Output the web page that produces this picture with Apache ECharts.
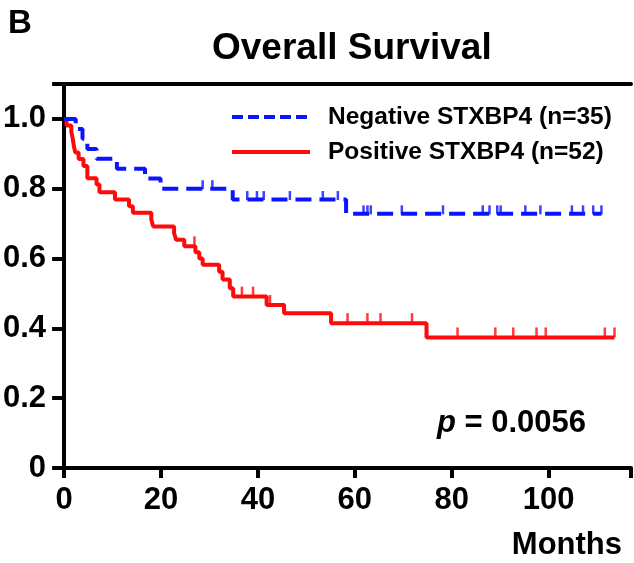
<!DOCTYPE html>
<html>
<head>
<meta charset="utf-8">
<script src="https://cdn.jsdelivr.net/npm/echarts@6/dist/echarts.min.js"></script>
<style>
  html, body { margin: 0; padding: 0; background: #fff; }
  #chart { width: 634px; height: 563px; }
</style>
</head>
<body>
<div id="chart"></div>
<script>
// Kaplan-Meier overall survival, STXBP4 negative vs positive
const negName = 'Negative STXBP4 (n=35)';
const posName = 'Positive STXBP4 (n=52)';

// event times (months) and survival after each event
const negEventTimes = [2.4, 3.8, 4.8, 6.7, 10.9, 16.7, 19.9, 34.8, 58.2];
const negSurvival   = [0.971, 0.943, 0.914, 0.886, 0.857, 0.829, 0.800, 0.769, 0.728];
const negCensored   = [28.6, 30.6, 37.8, 39.8, 41.2, 46.6, 53.4, 56.5, 61.8, 62.6, 63.3,
                       69.7, 78.2, 86.4, 87.8, 89.4, 90.1, 95.2, 98.3, 104.8, 107.1, 109.2, 110.9];
const negLastFollowUp = 110.9;

const posEventTimes = [0.5, 1.5, 1.8, 2.0, 2.3, 3.0, 4.0, 4.8, 6.7, 7.3, 10.5, 13.4, 14.2,
                       18.0, 18.4, 22.7, 23.1, 24.8, 27.1, 27.9, 28.6, 32.0, 32.7, 34.2, 34.9,
                       41.8, 45.4, 55.1, 74.8];
const posSurvival   = [0.981, 0.962, 0.942, 0.923, 0.904, 0.885, 0.865, 0.830, 0.812, 0.790, 0.769,
                       0.750, 0.731, 0.712, 0.692, 0.673, 0.654, 0.635, 0.618, 0.600, 0.582,
                       0.562, 0.540, 0.515, 0.491, 0.467, 0.443, 0.415, 0.374];
const posCensored   = [26.9, 36.7, 39.0, 42.5, 45.4, 58.5, 62.6, 65.3, 71.8, 81.2, 89.0, 92.7,
                       97.5, 99.4, 111.6, 113.6];
const posLastFollowUp = 113.6;

const xTicks = [0, 20, 40, 60, 80, 100];
const yTicks = [0, 0.2, 0.4, 0.6, 0.8, 1.0];

const BLUE = '#0a14ff';
const RED = '#ff0a0a';
const FONT = 'Liberation Sans';
const BLUE_DASH = [16, 8];

// step polyline: horizontal to each event, then vertical drop
function stepPath(times, surv, last) {
  const pts = [[0, 1]];
  let prev = 1;
  times.forEach((t, i) => {
    pts.push([t, prev]);
    pts.push([t, surv[i]]);
    prev = surv[i];
  });
  pts.push([last, prev]);
  return pts;
}
function survAt(times, surv, t) {
  let s = 1;
  times.forEach((et, i) => { if (et <= t) s = surv[i]; });
  return s;
}
function censorPoints(times, surv, cens) {
  return cens.map(t => [t, survAt(times, surv, t)]);
}

// legend drawn as a line sample followed by its label
function legendRow(y, color, dash, label) {
  return [
    { type: 'line', shape: { x1: 232, y1: y, x2: 310, y2: y },
      style: { stroke: color, lineWidth: 4, lineDash: dash } },
    { type: 'text', x: 328, y: y,
      style: { text: label, font: 'bold 24.5px "Liberation Sans"', fill: '#000',
               textVerticalAlign: 'middle', verticalAlign: 'middle' } }
  ];
}

const chart = echarts.init(document.getElementById('chart'), null, { renderer: 'canvas' });

chart.setOption({
  backgroundColor: '#ffffff',
  animation: false,
  title: [
    { text: 'B', left: 8, top: 7, padding: 0,
      textStyle: { fontFamily: FONT, fontWeight: 'bold', fontSize: 33, color: '#000' } },
    { text: 'Overall Survival', left: 212, top: 30, padding: 0,
      textStyle: { fontFamily: FONT, fontWeight: 'bold', fontSize: 37, color: '#000' } }
  ],
  grid: { left: 64, right: -5, top: 84, bottom: 95, containLabel: false },
  xAxis: [{
    type: 'value', min: 0, max: 117, interval: 20,
    splitLine: { show: false },
    axisLine: { lineStyle: { color: '#000', width: 4 } },
    axisTick: { length: 10, lineStyle: { color: '#000', width: 4 } },
    axisLabel: {
      margin: 17, fontFamily: FONT, fontWeight: 'bold', fontSize: 31, color: '#000',
      formatter: v => xTicks.indexOf(v) >= 0 ? String(v) : ''
    }
  }, {
    type: 'value', position: 'top', min: 0, max: 117,
    splitLine: { show: false },
    axisLine: { onZero: false, lineStyle: { color: '#000', width: 4 } },
    axisTick: { show: false }, axisLabel: { show: false }
  }],
  yAxis: {
    type: 'value', min: 0, max: 1.1, interval: 0.2,
    splitLine: { show: false },
    axisLine: { lineStyle: { color: '#000', width: 4 } },
    axisTick: { length: 12, lineStyle: { color: '#000', width: 4 } },
    axisLabel: {
      margin: 18, fontFamily: FONT, fontWeight: 'bold', fontSize: 31, color: '#000',
      formatter: v => {
        const hit = yTicks.find(t => Math.abs(t - v) < 1e-6);
        if (hit === undefined) return '';
        return hit === 0 ? '0' : hit.toFixed(1);
      }
    }
  },
  series: [
    {
      name: negName, type: 'line', data: stepPath(negEventTimes, negSurvival, negLastFollowUp),
      symbol: 'none', color: BLUE,
      lineStyle: { color: BLUE, width: 4, type: BLUE_DASH, cap: 'butt' }, z: 3
    },
    {
      name: posName, type: 'line', data: stepPath(posEventTimes, posSurvival, posLastFollowUp),
      symbol: 'none', color: RED,
      lineStyle: { color: RED, width: 4, type: 'solid' }, z: 2
    },
    {
      name: 'negCensor', type: 'scatter', data: censorPoints(negEventTimes, negSurvival, negCensored),
      symbol: 'rect', symbolSize: [2.5, 9], symbolOffset: [0, -4], itemStyle: { color: BLUE }, z: 4
    },
    {
      name: 'posCensor', type: 'scatter', data: censorPoints(posEventTimes, posSurvival, posCensored),
      symbol: 'rect', symbolSize: [2.5, 10], symbolOffset: [0, -5], itemStyle: { color: RED }, z: 4
    }
  ],
  graphic: [
    ...legendRow(117, BLUE, [11, 5], negName),
    ...legendRow(152, RED, null, posName),
    {
      type: 'text', left: 437, top: 408,
      style: {
        text: '{i|p} = 0.0056',
        font: 'bold 31px "Liberation Sans"',
        fill: '#000',
        rich: { i: { fontStyle: 'italic', fontWeight: 'bold', fontSize: 31, fontFamily: FONT } }
      }
    },
    {
      type: 'text', right: 12, top: 530,
      style: { text: 'Months', font: 'bold 31px "Liberation Sans"', fill: '#000' }
    }
  ]
});
</script>
</body>
</html>
